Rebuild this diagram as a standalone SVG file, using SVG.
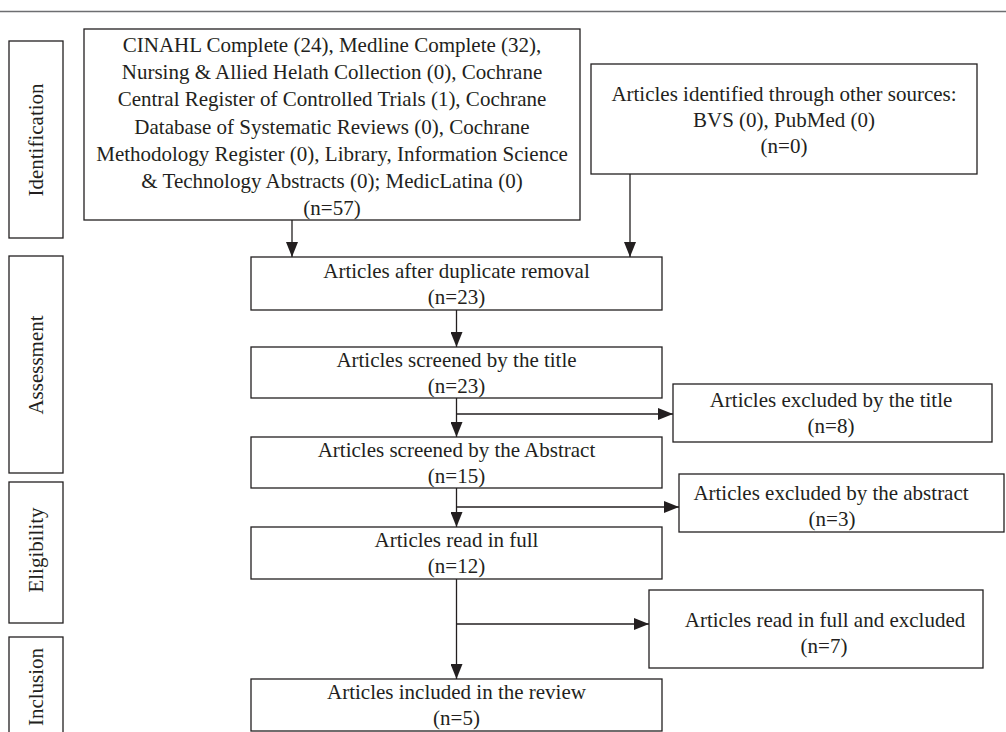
<svg xmlns="http://www.w3.org/2000/svg" width="1006" height="732" viewBox="0 0 1006 732">
  <style>
    .box { fill: #ffffff; stroke: #231f20; stroke-width: 1.3; }
    .t { font-family: "Liberation Serif", "Times New Roman", serif; font-size: 21px; fill: #231f20; text-anchor: middle; }
    .conn { stroke: #231f20; stroke-width: 1.3; fill: none; marker-end: url(#arrow); }
  </style>
  <defs>
    <marker id="arrow" markerUnits="userSpaceOnUse" markerWidth="15" markerHeight="12" refX="15" refY="6" orient="auto">
      <path d="M0,0 L15,6 L0,12 z" fill="#231f20"/>
    </marker>
  </defs>
  <rect width="1006" height="732" fill="#ffffff"/>
  <line x1="0" y1="11.5" x2="1006" y2="11.5" stroke="#6d6e71" stroke-width="1.5"/>

  <g id="stage-identification">
    <rect class="box" x="9" y="41" width="54" height="197"/>
    <text class="t" transform="translate(36,140) rotate(-90)" dy="0.35em">Identification</text>
  </g>
  <g id="stage-assessment">
    <rect class="box" x="9" y="256" width="54" height="217"/>
    <text class="t" transform="translate(36,365) rotate(-90)" dy="0.35em">Assessment</text>
  </g>
  <g id="stage-eligibility">
    <rect class="box" x="9" y="482" width="54" height="141"/>
    <text class="t" transform="translate(36,550) rotate(-90)" dy="0.35em">Eligibility</text>
  </g>
  <g id="stage-inclusion">
    <rect class="box" x="9" y="637" width="54" height="110"/>
    <text class="t" transform="translate(36,687) rotate(-90)" dy="0.35em">Inclusion</text>
  </g>

  <g id="databases">
    <rect class="box" x="84" y="29" width="496" height="191"/>
    <text class="t" x="332" y="52">CINAHL Complete (24), Medline Complete (32),</text>
    <text class="t" x="332" y="79.2">Nursing &amp; Allied Helath Collection (0), Cochrane</text>
    <text class="t" x="332" y="106.4">Central Register of Controlled Trials (1), Cochrane</text>
    <text class="t" x="332" y="133.6">Database of Systematic Reviews (0), Cochrane</text>
    <text class="t" x="332" y="160.8">Methodology Register (0), Library, Information Science</text>
    <text class="t" x="332" y="188">&amp; Technology Abstracts (0); MedicLatina (0)</text>
    <text class="t" x="332" y="215.2">(n=57)</text>
  </g>
  <g id="other-sources">
    <rect class="box" x="591" y="64" width="386" height="110"/>
    <text class="t" x="784" y="101">Articles identified through other sources:</text>
    <text class="t" x="784" y="127">BVS (0), PubMed (0)</text>
    <text class="t" x="784" y="153">(n=0)</text>
  </g>
  <g id="after-duplicates">
    <rect class="box" x="251" y="257" width="411" height="53"/>
    <text class="t" x="456.5" y="278">Articles after duplicate removal</text>
    <text class="t" x="456.5" y="304">(n=23)</text>
  </g>
  <g id="screened-title">
    <rect class="box" x="251" y="347" width="411" height="51"/>
    <text class="t" x="456.5" y="367">Articles screened by the title</text>
    <text class="t" x="456.5" y="393">(n=23)</text>
  </g>
  <g id="excluded-title">
    <rect class="box" x="673" y="384" width="319" height="58"/>
    <text class="t" x="831" y="407">Articles excluded by the title</text>
    <text class="t" x="831" y="433">(n=8)</text>
  </g>
  <g id="screened-abstract">
    <rect class="box" x="251" y="437" width="411" height="51"/>
    <text class="t" x="456.5" y="457">Articles screened by the Abstract</text>
    <text class="t" x="456.5" y="483">(n=15)</text>
  </g>
  <g id="excluded-abstract">
    <rect class="box" x="679" y="474" width="325" height="58"/>
    <text class="t" x="831" y="500">Articles excluded by the abstract</text>
    <text class="t" x="832" y="526">(n=3)</text>
  </g>
  <g id="read-full">
    <rect class="box" x="251" y="527" width="411" height="52"/>
    <text class="t" x="456.5" y="547">Articles read in full</text>
    <text class="t" x="456.5" y="573">(n=12)</text>
  </g>
  <g id="excluded-full">
    <rect class="box" x="649" y="590" width="334" height="78"/>
    <text class="t" x="825" y="627">Articles read in full and excluded</text>
    <text class="t" x="824" y="653">(n=7)</text>
  </g>
  <g id="included">
    <rect class="box" x="251" y="679" width="411" height="52"/>
    <text class="t" x="456.5" y="699">Articles included in the review</text>
    <text class="t" x="456.5" y="725">(n=5)</text>
  </g>

  <g id="connectors">
    <line class="conn" x1="292" y1="220" x2="292" y2="257"/>
    <line class="conn" x1="630" y1="174" x2="630" y2="257"/>
    <line class="conn" x1="456.5" y1="310" x2="456.5" y2="347"/>
    <line class="conn" x1="456.5" y1="398" x2="456.5" y2="437"/>
    <line class="conn" x1="456.5" y1="414" x2="673" y2="414"/>
    <line class="conn" x1="456.5" y1="488" x2="456.5" y2="527"/>
    <line class="conn" x1="456.5" y1="507" x2="679" y2="507"/>
    <line class="conn" x1="456.5" y1="579" x2="456.5" y2="679"/>
    <line class="conn" x1="456.5" y1="624" x2="649" y2="624"/>
  </g>
</svg>
